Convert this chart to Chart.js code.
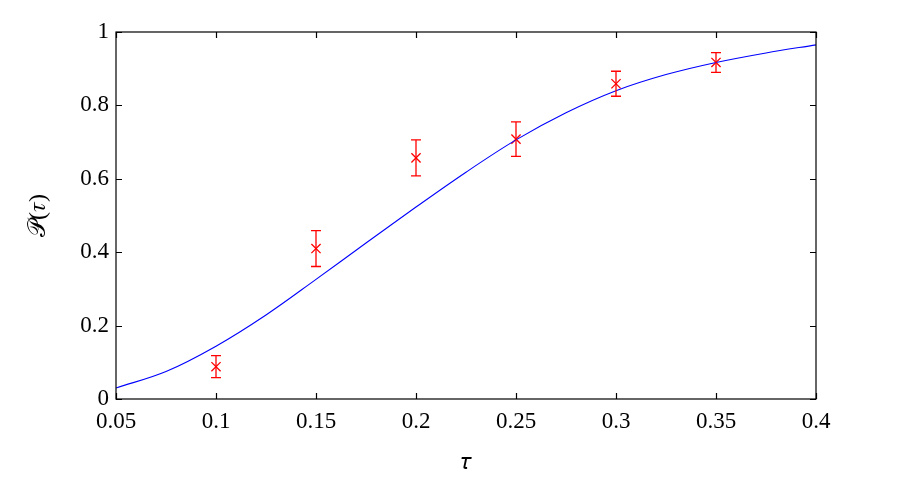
<!DOCTYPE html>
<html>
<head>
<meta charset="utf-8">
<script src="https://cdn.jsdelivr.net/npm/chart.js@4.4.1/dist/chart.umd.min.js"></script>
<style>
  html, body { margin: 0; padding: 0; background: #fff; }
  #wrap { width: 900px; height: 480px; }
</style>
</head>
<body>
<div id="wrap"><canvas id="chart" width="900" height="480"></canvas></div>
<script>
// ============================
// Data
// ============================
const curveTau = [0.05, 0.075, 0.1, 0.125, 0.15, 0.175, 0.2, 0.225, 0.25, 0.275, 0.3, 0.325, 0.35, 0.375, 0.4];
const curveP   = [0.030, 0.075, 0.144, 0.229, 0.326, 0.425, 0.523, 0.618, 0.706, 0.780, 0.840, 0.884, 0.917, 0.943, 0.965];

const measTau  = [0.1, 0.15, 0.2, 0.25, 0.3, 0.35];
const measP    = [0.088, 0.410, 0.657, 0.708, 0.859, 0.917];
const measErr  = [0.030, 0.049, 0.049, 0.047, 0.034, 0.027];

const xTicks = [0.05, 0.1, 0.15, 0.2, 0.25, 0.3, 0.35, 0.4];
const xTickLabels = ["0.05", "0.1", "0.15", "0.2", "0.25", "0.3", "0.35", "0.4"];
const yTicks = [0, 0.2, 0.4, 0.6, 0.8, 1];
const yTickLabels = ["0", "0.2", "0.4", "0.6", "0.8", "1"];

const serif = '"Liberation Serif", "DejaVu Serif", serif';

// error bars + framed box with inward ticks
const errorBars = {
    id: 'errorBars',
    afterDatasetsDraw(chart) {
        const ctx = chart.ctx;
        const xs = chart.scales.x, ys = chart.scales.y;
        ctx.save();
        ctx.strokeStyle = '#ff0000';
        ctx.lineWidth = 1.3;
        measTau.forEach((t, i) => {
            const px = xs.getPixelForValue(t);
            const top = ys.getPixelForValue(measP[i] + measErr[i]);
            const bot = ys.getPixelForValue(measP[i] - measErr[i]);
            ctx.beginPath();
            ctx.moveTo(px, top); ctx.lineTo(px, bot);
            ctx.moveTo(px - 5, top); ctx.lineTo(px + 5, top);
            ctx.moveTo(px - 5, bot); ctx.lineTo(px + 5, bot);
            ctx.stroke();
        });
        ctx.restore();
    },
    afterDraw(chart) {
        const ctx = chart.ctx;
        const a = chart.chartArea;
        const xs = chart.scales.x, ys = chart.scales.y;
        const len = 6;
        ctx.save();
        ctx.strokeStyle = '#000';
        ctx.lineWidth = 1.2;
        ctx.strokeRect(a.left, a.top, a.right - a.left, a.bottom - a.top);
        ctx.beginPath();
        xTicks.forEach(v => {
            const px = Math.round(xs.getPixelForValue(v)) + 0.5;
            ctx.moveTo(px, a.bottom); ctx.lineTo(px, a.bottom - len);
            ctx.moveTo(px, a.top); ctx.lineTo(px, a.top + len);
        });
        yTicks.forEach(v => {
            const py = Math.round(ys.getPixelForValue(v)) + 0.5;
            ctx.moveTo(a.left, py); ctx.lineTo(a.left + len, py);
            ctx.moveTo(a.right, py); ctx.lineTo(a.right - len, py);
        });
        ctx.stroke();
        ctx.restore();
    }
};

new Chart(document.getElementById('chart').getContext('2d'), {
    type: 'scatter',
    data: {
        datasets: [
            {
                label: 'fit',
                data: curveTau.map((t, i) => ({ x: t, y: curveP[i] })),
                showLine: true,
                borderColor: '#0000ff',
                borderWidth: 1.1,
                pointRadius: 0,
                tension: 0.35,
                fill: false
            },
            {
                label: 'measured',
                data: measTau.map((t, i) => ({ x: t, y: measP[i] })),
                showLine: false,
                pointStyle: 'crossRot',
                pointRadius: 6.5,
                borderColor: '#ff0000',
                backgroundColor: '#ff0000',
                pointBorderWidth: 1.3
            }
        ]
    },
    plugins: [errorBars],
    options: {
        responsive: false,
        animation: false,
        layout: { padding: { left: 0, top: 32, right: 84, bottom: 0 } },
        plugins: {
            legend: { display: false },
            tooltip: { enabled: false }
        },
        scales: {
            x: {
                type: 'linear',
                min: 0.05,
                max: 0.4,
                afterBuildTicks: axis => { axis.ticks = xTicks.map(v => ({ value: v })); },
                afterFit: axis => { axis.height = 81; },
                border: { display: false },
                grid: { display: false, drawTicks: false },
                ticks: {
                    color: '#000',
                    padding: 9,
                    maxRotation: 0,
                    font: { family: serif, size: 23 },
                    callback: v => xTickLabels[xTicks.indexOf(v)]
                },
                title: {
                    display: true,
                    text: '𝜏',
                    color: '#000',
                    padding: { top: 0, bottom: 4 },
                    font: { family: serif, size: 22 }
                }
            },
            y: {
                min: 0,
                max: 1,
                afterBuildTicks: axis => { axis.ticks = yTicks.map(v => ({ value: v })); },
                afterFit: axis => { axis.width = 116; },
                border: { display: false },
                grid: { display: false, drawTicks: false },
                ticks: {
                    color: '#000',
                    padding: 7,
                    font: { family: serif, size: 23 },
                    callback: v => yTickLabels[yTicks.indexOf(v)]
                },
                title: {
                    display: true,
                    text: '𝒫(𝜏)',
                    color: '#000',
                    padding: { top: 24, bottom: 0 },
                    font: { family: serif, size: 24 }
                }
            }
        }
    }
});
</script>
</body>
</html>
